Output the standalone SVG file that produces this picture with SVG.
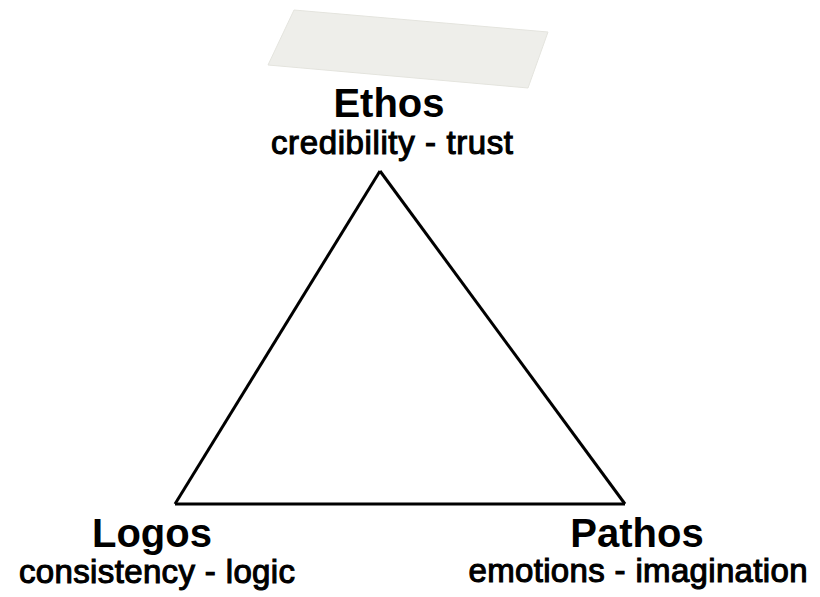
<svg xmlns="http://www.w3.org/2000/svg" width="820" height="597" viewBox="0 0 820 597">
  <defs>
    <filter id="soft" x="-5%" y="-20%" width="110%" height="140%">
      <feGaussianBlur stdDeviation="0.7"/>
    </filter>
  </defs>
  <style>
    .title { font-family: "Liberation Sans", Arial, sans-serif; font-weight: bold; font-size: 40px; fill: #000; text-anchor: middle; }
    .sub { font-family: "Liberation Sans", Arial, sans-serif; font-size: 33px; fill: #000; stroke: #000; stroke-width: 1.1; text-anchor: middle; }
    .edge { fill: none; stroke: #000; stroke-width: 3; stroke-linejoin: miter; }
  </style>
  <rect width="820" height="597" fill="#fff"/>

  <!-- blank paper strip above the top vertex -->
  <polygon points="294,10 548,32 528,88 268,65" fill="#eeeeea" stroke="#e4e4de" stroke-width="1" filter="url(#soft)"/>

  <!-- connectors: the three sides of the triangle -->
  <g id="connectors">
    <path class="edge" d="M380,171 L175,504"/>
    <path class="edge" d="M380,171 L625,504"/>
    <path class="edge" d="M175,504 L625,504"/>
  </g>

  <g id="ethos">
    <text class="title" x="389" y="117">Ethos</text>
    <text class="sub" x="392" y="154" textLength="242" lengthAdjust="spacing">credibility - trust</text>
  </g>

  <g id="logos">
    <text class="title" x="152" y="547">Logos</text>
    <text class="sub" x="157" y="583" textLength="276" lengthAdjust="spacing">consistency - logic</text>
  </g>

  <g id="pathos">
    <text class="title" x="637" y="547">Pathos</text>
    <text class="sub" x="638" y="582" textLength="339" lengthAdjust="spacing">emotions - imagination</text>
  </g>
</svg>
